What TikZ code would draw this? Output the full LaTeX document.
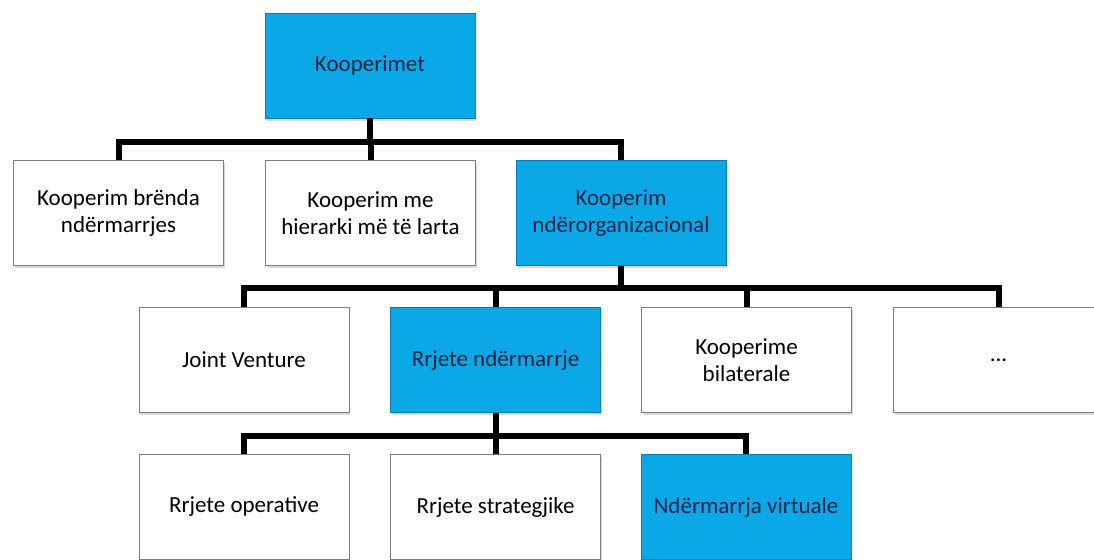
\documentclass[tikz,border=0pt]{standalone}
\usepackage{fontspec}
\setmainfont{Carlito}
\usetikzlibrary{shadows}
\definecolor{orgblue}{RGB}{10,168,230}
\definecolor{orgedge}{RGB}{125,125,125}
\definecolor{orgtext}{RGB}{25,35,70}
\begin{document}
\begin{tikzpicture}[x=0.5pt, y=-0.5pt, every node/.style={font=\fontsize{11.5}{13.5}\selectfont, align=center},
	unit/.style={draw=orgedge, fill=white, minimum width=105pt, minimum height=52.5pt, inner sep=2pt, drop shadow={shadow xshift=0.6pt, shadow yshift=-1.3pt, opacity=0.3}},
	hl/.style={unit, fill=orgblue, draw=orgblue!75!black, text=orgtext},
	link/.style={line width=3pt}]
	\clip (0,0) rectangle (1094,560);
	\node[hl] (koop) at (370,65.5) {Kooperimet};
	\node[unit] (brenda) at (118.5,213) {Kooperim brënda\\ ndërmarrjes};
	\node[unit] (hier) at (370.5,213) {Kooperim me\\ hierarki më të larta};
	\node[hl] (ndorg) at (621,213) {Kooperim\\ ndërorganizacional};
	\node[unit] (jv) at (244,360) {Joint Venture};
	\node[hl] (rrjete) at (495.5,360) {Rrjete ndërmarrje};
	\node[unit] (bilat) at (746.5,360) {Kooperime\\ bilaterale};
	\node[unit] (more) at (998.5,360) {...};
	\node[unit] (oper) at (244,507) {Rrjete operative};
	\node[unit] (strat) at (495.5,507) {Rrjete strategjike};
	\node[hl] (virt) at (746,507) {Ndërmarrja virtuale};
	\coordinate (bar1) at (0,142);
	\coordinate (bar2) at (0,288);
	\coordinate (bar3) at (0,436);
	\draw[link] (koop.south) -- (koop.south |- bar1);
	\draw[link] (brenda.north) |- (bar1 -| ndorg.north) -- (ndorg.north);
	\draw[link] (hier.north) -- (hier.north |- bar1);
	\draw[link] (ndorg.south) -- (ndorg.south |- bar2);
	\draw[link] (jv.north) |- (bar2 -| more.north) -- (more.north);
	\foreach \c in {rrjete, bilat} {\draw[link] (\c.north) -- (\c.north |- bar2);}
	\draw[link] (rrjete.south) -- (rrjete.south |- bar3);
	\draw[link] (oper.north) |- (bar3 -| virt.north) -- (virt.north);
	\draw[link] (strat.north) -- (strat.north |- bar3);
\end{tikzpicture}
\end{document}
